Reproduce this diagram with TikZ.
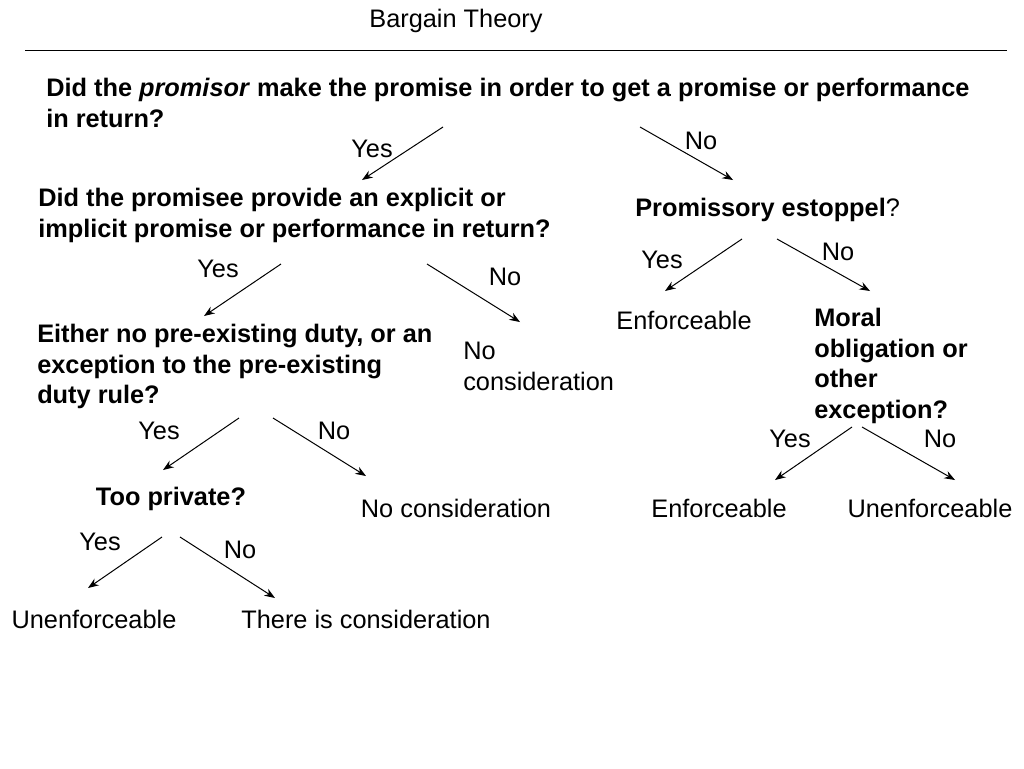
\documentclass[tikz,border=0pt]{standalone}
\usepackage{fontspec}
\setmainfont{Liberation Sans}
\usetikzlibrary{arrows.meta}
\tikzset{
  lbl/.style={inner sep=0.75pt, font=\fontsize{19}{23}\selectfont},
  qtext/.style={lbl, anchor=north west, align=left, font=\fontsize{19}{23}\selectfont\bfseries},
  branch/.style={-{Stealth[length=8pt,width=6pt]}, line width=0.75pt}
}
\begin{document}
\begin{tikzpicture}[x=0.75pt,y=0.75pt,yscale=-1,xscale=1]
\useasboundingbox (0,0) rectangle (1024,768);

% Title
\node [lbl] (title) at (456,21) {Bargain Theory};
\coordinate (ruleL) at (25,50);
\coordinate (ruleR) at (1007,50);
\draw [line width=0.75pt] (ruleL) -- (ruleR);

% Questions
\node [qtext] (qone) at (45,77) {Did the \textit{promisor} make the promise in order to get a promise or performance\\in return?};
\node [qtext] (qtwo) at (37,187) {Did the promisee provide an explicit or\\implicit promise or performance in return?};
\node [lbl, anchor=north west] (estop) at (634,197) {\textbf{Promissory estoppel}?};
\node [qtext] (qthree) at (36,323) {Either no pre-existing duty, or an\\exception to the pre-existing\\duty rule?};
\node [qtext] (moral) at (813,307) {Moral\\obligation or\\other\\exception?};
\node [lbl, font=\fontsize{19}{23}\selectfont\bfseries] (priv) at (171,499) {Too private?};

% Outcomes
\node [lbl, anchor=north west, align=left] (nocA) at (462,341) {No\\consideration};
\node [lbl] (enfA) at (684,320) {Enforceable};
\node [lbl] (nocB) at (456,508) {No consideration};
\node [lbl] (enfB) at (719,508) {Enforceable};
\node [lbl] (unenfA) at (930,508) {Unenforceable};
\node [lbl] (unenfB) at (94,619) {Unenforceable};
\node [lbl] (isc) at (366,619) {There is consideration};

% Branches
\coordinate (aS) at (443,127); \coordinate (aE) at (362,180);
\coordinate (bS) at (640,127); \coordinate (bE) at (733,180);
\coordinate (cS) at (281,264); \coordinate (cE) at (204,316);
\coordinate (dS) at (427,264); \coordinate (dE) at (520,322);
\coordinate (eS) at (742,239); \coordinate (eE) at (665,291);
\coordinate (fS) at (777,239); \coordinate (fE) at (870,291);
\coordinate (gS) at (239,418); \coordinate (gE) at (163,470);
\coordinate (hS) at (273,418); \coordinate (hE) at (366,476);
\coordinate (iS) at (852,427); \coordinate (iE) at (775,480);
\coordinate (jS) at (862,427); \coordinate (jE) at (955,480);
\coordinate (kS) at (162,537); \coordinate (kE) at (88,588);
\coordinate (lS) at (180,537); \coordinate (lE) at (275,598);
\foreach \s/\e in {aS/aE,bS/bE,cS/cE,dS/dE,eS/eE,fS/fE,gS/gE,hS/hE,iS/iE,jS/jE,kS/kE,lS/lE}
  \draw [branch] (\s) -- (\e);

% Branch labels
\node [lbl] (yA) at (372,149) {Yes};
\node [lbl] (nA) at (701,141) {No};
\node [lbl] (yB) at (218,269) {Yes};
\node [lbl] (nB) at (505,277) {No};
\node [lbl] (yC) at (662,260) {Yes};
\node [lbl] (nC) at (838,252) {No};
\node [lbl] (yD) at (159,431) {Yes};
\node [lbl] (nD) at (334,431) {No};
\node [lbl] (yE) at (790,439) {Yes};
\node [lbl] (nE) at (940,439) {No};
\node [lbl] (yF) at (100,542) {Yes};
\node [lbl] (nF) at (240,550) {No};

\end{tikzpicture}
\end{document}
